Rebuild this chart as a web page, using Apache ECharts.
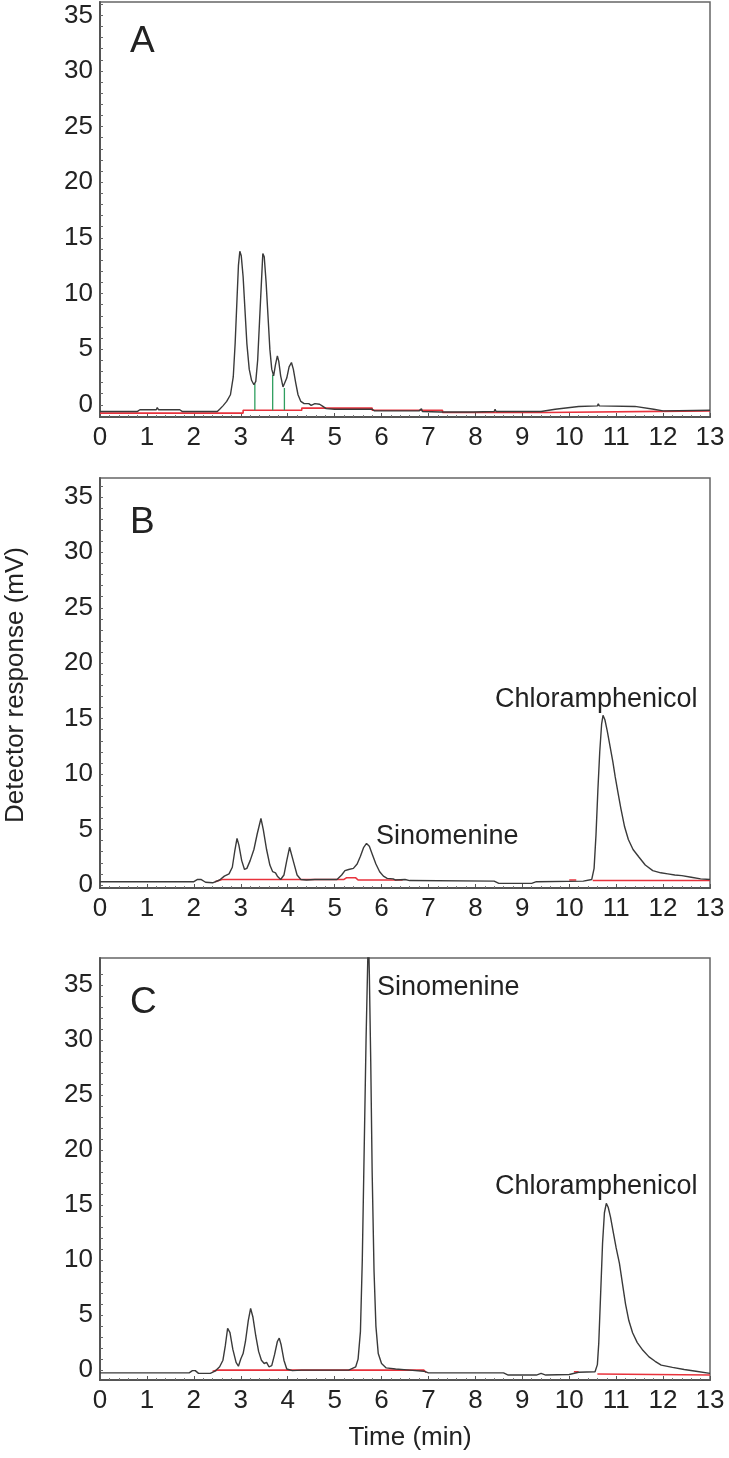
<!DOCTYPE html>
<html>
<head>
<meta charset="utf-8">
<script src="https://cdn.jsdelivr.net/npm/echarts@6/dist/echarts.min.js"></script>
<style>
html,body{margin:0;padding:0;background:#fff;}
#chart{width:729px;height:1458px;}
</style>
</head>
<body>
<div id="chart"></div>
<script>
// ---- tick labels ----
const X_TICKS = [0,1,2,3,4,5,6,7,8,9,10,11,12,13];
const Y_TICKS = [0,5,10,15,20,25,30,35];
const Y_MINOR = [0,1,2,3,4,5,6,7,8,9,10,11,12,13,14,15,16,17,18,19,20,21,22,23,24,25,26,27,28,29,30,31,32,33,34,35,36];

// ---- panel A: blank (time min, response mV) ----
const A_TRACE = [[0,-0.6],[0.8,-0.6],[0.85,-0.45],[1.2,-0.45],[1.22,-0.25],[1.25,-0.45],[1.7,-0.45],[1.75,-0.6],[2.5,-0.6],[2.55,-0.4],[2.62,-0.1],[2.7,0.3],[2.78,0.9],[2.84,2.5],[2.88,5.5],[2.92,9.5],[2.95,12.5],[2.98,13.8],[3.01,13.4],[3.05,11.5],[3.09,8.5],[3.13,5.5],[3.18,3.2],[3.23,2.2],[3.28,1.8],[3.32,2.1],[3.36,4],[3.4,7.5],[3.44,11],[3.47,13.6],[3.5,13.3],[3.54,11],[3.58,8],[3.62,5],[3.66,3.2],[3.7,2.6],[3.74,3.6],[3.78,4.4],[3.81,3.9],[3.85,2.6],[3.9,1.6],[3.94,1.5],[3.98,2.4],[4.03,3.4],[4.08,3.8],[4.12,3.2],[4.17,2],[4.22,0.9],[4.28,0.3],[4.35,0.1],[4.45,0.1],[4.5,-0.05],[4.58,0.1],[4.62,0.2],[4.68,0.05],[4.75,-0.15],[4.82,-0.35],[5.0,-0.4],[5.8,-0.4],[5.85,-0.55],[6.8,-0.55],[6.85,-0.35],[6.87,-0.6],[7.25,-0.65],[7.95,-0.65],[8.4,-0.6],[8.42,-0.4],[8.44,-0.6],[9.4,-0.6],[9.7,-0.4],[10.2,-0.15],[10.6,-0.1],[10.62,0.1],[10.64,-0.1],[11.4,-0.15],[11.8,-0.4],[12.0,-0.55],[13,-0.5]];
const A_BASELINE = [[0,-0.75],[3.05,-0.75],[3.05,-0.5],[4.3,-0.5],[4.3,-0.3],[5.8,-0.3],[5.8,-0.5],[7.3,-0.5],[7.3,-0.7],[9.5,-0.7],[9.5,-0.55],[13,-0.55]];
const A_DROPS = [[3.3,-0.5,1.9],[3.68,-0.5,2.7],[3.93,-0.5,1.5]];

// ---- panel B: spiked sample ----
const B_TRACE = [[0,0.3],[2.0,0.3],[2.08,0.5],[2.15,0.5],[2.25,0.25],[2.4,0.2],[2.55,0.45],[2.65,0.8],[2.75,1.0],[2.82,1.6],[2.87,3],[2.92,4.2],[2.96,3.6],[3.02,2.2],[3.08,1.4],[3.13,1.5],[3.2,2.2],[3.28,3.2],[3.35,4.6],[3.43,6.0],[3.48,5.0],[3.55,3.2],[3.62,1.8],[3.68,1.2],[3.74,1.1],[3.78,0.8],[3.85,0.5],[3.92,0.9],[3.98,2.2],[4.04,3.4],[4.08,3.3],[4.13,2],[4.2,0.9],[4.28,0.5],[4.4,0.45],[4.58,0.5],[4.6,0.65],[4.62,0.5],[5.05,0.5],[5.1,0.7],[5.15,0.9],[5.22,1.3],[5.3,1.4],[5.4,1.5],[5.48,1.9],[5.55,2.6],[5.62,3.4],[5.68,3.75],[5.74,3.5],[5.8,2.8],[5.88,1.9],[5.96,1.2],[6.04,0.8],[6.12,0.6],[6.25,0.55],[6.3,0.45],[6.5,0.5],[6.6,0.4],[8.4,0.35],[8.5,0.15],[9.2,0.15],[9.3,0.3],[10.3,0.35],[10.48,0.5],[10.53,1.5],[10.57,4.5],[10.61,8.5],[10.65,12],[10.69,14.5],[10.72,15.3],[10.76,14.9],[10.81,13.9],[10.87,12.5],[10.93,11.1],[10.98,9.75],[11.04,8.3],[11.1,6.9],[11.18,5.25],[11.26,4.1],[11.36,3.2],[11.48,2.55],[11.62,1.8],[11.78,1.3],[11.95,1.1],[12.1,1.0],[12.25,0.9],[12.4,0.85],[12.6,0.7],[12.8,0.55],[13,0.5]];
const B_BASELINE_1 = [[2.45,0.3],[2.6,0.5],[5.2,0.5],[5.25,0.65],[5.45,0.65],[5.5,0.45],[6.45,0.45]];
const B_BASELINE_2 = [[10.0,0.45],[10.15,0.45]];
const B_BASELINE_3 = [[10.5,0.4],[13,0.4]];

// ---- panel C: plasma sample ----
const C_TRACE = [[0,-0.25],[1.9,-0.25],[1.97,-0.05],[2.03,-0.05],[2.1,-0.3],[2.35,-0.3],[2.45,-0.1],[2.55,0.3],[2.62,0.9],[2.67,2.2],[2.72,3.8],[2.77,3.4],[2.83,1.9],[2.9,0.7],[2.95,0.35],[3.0,1.0],[3.05,1.5],[3.1,2.6],[3.16,4.5],[3.21,5.6],[3.26,4.8],[3.32,3.1],[3.38,1.7],[3.44,0.9],[3.5,0.6],[3.55,0.7],[3.6,0.3],[3.66,0.4],[3.72,1.4],[3.78,2.6],[3.82,2.9],[3.86,2.3],[3.92,0.9],[3.98,0.1],[4.1,-0.05],[4.3,0],[4.32,0.15],[4.34,0],[4.7,0.0],[4.72,0.15],[4.75,0],[5.3,0.0],[5.45,0.3],[5.5,1.0],[5.55,3.5],[5.59,10],[5.63,20],[5.67,30],[5.7,36],[5.72,40],[5.74,36],[5.77,28],[5.8,18],[5.84,9],[5.88,4],[5.93,1.5],[6.0,0.6],[6.1,0.2],[6.3,0.1],[6.6,0.0],[6.9,-0.1],[7.0,-0.25],[8.6,-0.25],[8.7,-0.45],[9.3,-0.45],[9.4,-0.3],[9.5,-0.45],[10.0,-0.4],[10.2,-0.2],[10.55,-0.15],[10.6,0.5],[10.63,2.5],[10.67,7],[10.71,11.5],[10.75,14.3],[10.79,15.15],[10.83,14.8],[10.88,13.9],[10.94,12.5],[11.0,11.1],[11.07,9.7],[11.14,7.7],[11.2,6.0],[11.27,4.5],[11.35,3.4],[11.45,2.5],[11.57,1.8],[11.7,1.2],[11.83,0.8],[11.96,0.45],[12.2,0.25],[12.45,0.05],[12.7,-0.1],[13,-0.3]];
const C_BASELINE_1 = [[2.4,-0.1],[2.5,0.0],[6.9,0.0],[6.95,-0.2]];
const C_BASELINE_2 = [[10.1,-0.15],[10.2,-0.15]];
const C_BASELINE_3 = [[10.6,-0.35],[13,-0.45]];

// ---- labels ----
const PANEL_LETTERS = ['A','B','C'];
const X_NAME = 'Time (min)';
const Y_NAME = 'Detector response (mV)';

// ---- layout (pixels) ----
const PANELS = [
  {top:2, height:415, min:-1.1, max:36.2},
  {top:478, height:410, min:-0.27, max:36.7},
  {top:958, height:422, min:-0.9, max:37.45}
];
const FONT = '"Liberation Sans", Arial, sans-serif';
const TXT = '#222';
const TRACE_COLOR = '#3a3a3a';
const RED = '#e8323c';
const GREEN = '#2f9e5f';

const grids = PANELS.map(p => ({left:100, width:610, top:p.top, height:p.height, show:true, borderColor:'#666', borderWidth:1.5, backgroundColor:'#fff'}));
const xAxes = PANELS.map((p,i) => ({
  type:'value', gridIndex:i, min:0, max:13, interval:1,
  axisLine:{show:true, onZero:false, lineStyle:{color:'#555', width:2}},
  axisTick:{show:true, inside:true, length:4, lineStyle:{color:'#555'}},
  minorTick:{show:true, splitNumber:5, length:2, lineStyle:{color:'#777'}},
  splitLine:{show:false},
  axisLabel:{color:TXT, fontSize:26, fontFamily:FONT, margin:8,
    formatter: v => X_TICKS.includes(v) ? String(v) : ''}
}));
const yAxes = PANELS.map((p,i) => ({
  type:'value', gridIndex:i, min:p.min, max:p.max,
  axisLine:{show:true, onZero:false, lineStyle:{color:'#555', width:2}},
  axisTick:{show:true, inside:true, length:3, customValues:Y_MINOR, lineStyle:{color:'#666'}},
  splitLine:{show:false},
  axisLabel:{color:TXT, fontSize:26, fontFamily:FONT, margin:7, customValues:Y_TICKS, formatter: v => String(v)}
}));

function ls(idx, data, color, width, z) {
  return {type:'line', xAxisIndex:idx, yAxisIndex:idx, data:data, symbol:'none', showSymbol:false,
    lineStyle:{color:color, width:width}, silent:true, animation:false, z:z, clip:true};
}
const series = [
  ls(0, A_BASELINE, RED, 1.6, 2),
  ...A_DROPS.map(d => ls(0, [[d[0],d[1]],[d[0],d[2]]], GREEN, 1.3, 3)),
  ls(0, A_TRACE, TRACE_COLOR, 1.4, 4),
  ls(1, B_BASELINE_1, RED, 1.6, 2),
  ls(1, B_BASELINE_2, RED, 1.6, 2),
  ls(1, B_BASELINE_3, RED, 1.6, 2),
  ls(1, B_TRACE, TRACE_COLOR, 1.4, 4),
  ls(2, C_BASELINE_1, RED, 1.6, 2),
  ls(2, C_BASELINE_2, RED, 1.6, 2),
  ls(2, C_BASELINE_3, RED, 1.6, 2),
  ls(2, C_TRACE, TRACE_COLOR, 1.4, 4)
];

const txt = (x, y, text, size, extra) => Object.assign({type:'text', x:x, y:y, z:10,
  style:{text:text, fill:TXT, font: size + 'px ' + FONT, textAlign:'left', textVerticalAlign:'middle'}}, extra || {});

const graphics = [
  txt(130, 42, PANEL_LETTERS[0], 37),
  txt(130, 523, PANEL_LETTERS[1], 37),
  txt(130, 1003, PANEL_LETTERS[2], 37),
  txt(376, 837, 'Sinomenine', 27),
  txt(495, 700, 'Chloramphenicol', 27),
  txt(377, 988, 'Sinomenine', 27),
  txt(495, 1187, 'Chloramphenicol', 27),
  {type:'text', x:410, y:1438, z:10, style:{text:X_NAME, fill:TXT, font:'26px ' + FONT, textAlign:'center', textVerticalAlign:'middle'}},
  {type:'text', x:16, y:685, rotation:Math.PI/2, z:10, style:{text:Y_NAME, fill:TXT, font:'26px ' + FONT, textAlign:'center', textVerticalAlign:'middle'}}
];

const chart = echarts.init(document.getElementById('chart'), null, {renderer:'canvas'});
chart.setOption({
  animation:false,
  backgroundColor:'#fff',
  grid: grids, xAxis: xAxes, yAxis: yAxes, series: series, graphic: graphics
});
</script>
</body>
</html>
